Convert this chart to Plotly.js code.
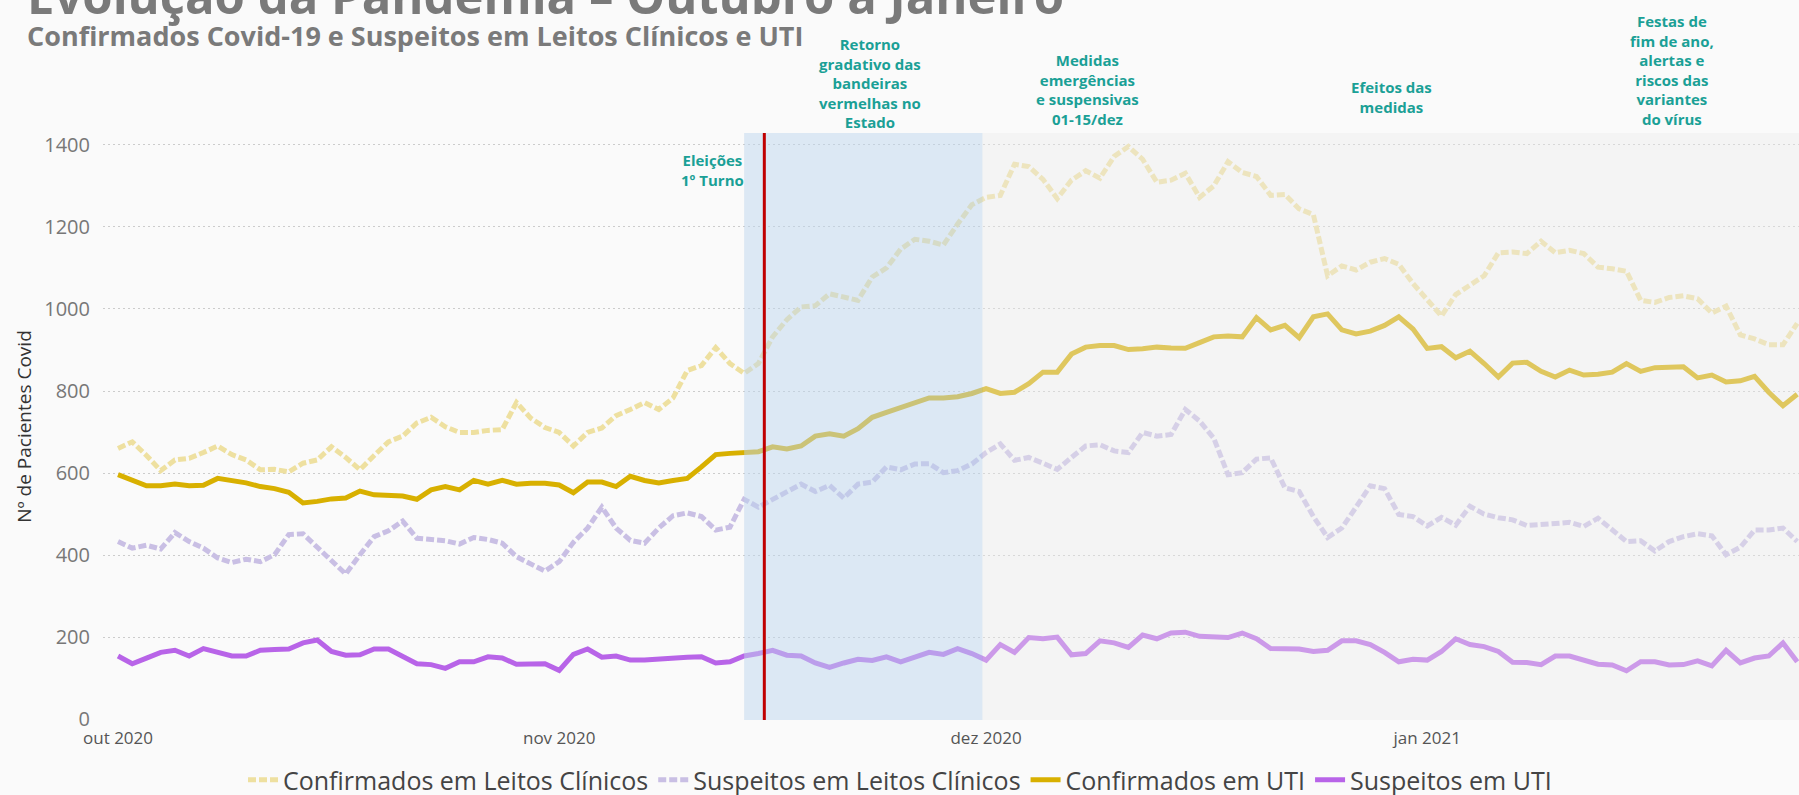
<!DOCTYPE html>
<html>
<head>
<meta charset="utf-8">
<script src="https://cdn.plot.ly/plotly-3.0.1.min.js"></script>
<style>
html,body{margin:0;padding:0;background:#fafafa;overflow:hidden;}
#chart{width:1799px;height:795px;}
</style>
</head>
<body>
<div id="chart"></div>
<script>
// ---- data (daily, starting 2020-10-01) ----
const startDate = '2020-10-01';
const seriesNames = ['Confirmados em Leitos Clínicos', 'Suspeitos em Leitos Clínicos', 'Confirmados em UTI', 'Suspeitos em UTI'];

const confirmadosLeitos = [
  660, 676, 643, 606, 632, 636, 650, 666, 645, 632, 608, 609, 603, 624, 632, 664, 638, 608, 643, 676,
  690, 722, 736, 713, 699, 699, 704, 706, 772, 734, 711, 699, 666, 699, 710, 740,
  755, 772, 755, 783, 850, 862, 906, 867, 843, 867, 932, 974, 1005, 1008, 1037, 1028, 1021, 1078, 1100, 1146,
  1170, 1165, 1156, 1207, 1254, 1272, 1277, 1353, 1347, 1316, 1269, 1314, 1337, 1319, 1372,
  1396, 1365, 1309, 1314, 1331, 1272, 1300, 1359, 1333, 1323, 1277, 1279, 1244, 1230, 1081, 1105, 1095, 1114, 1123, 1109,
  1062, 1021, 983, 1035, 1058, 1081, 1137, 1139, 1135, 1165, 1137, 1143, 1135, 1102, 1098,
  1092, 1021, 1016, 1028, 1032, 1025, 990, 1007, 937, 927, 913, 913, 965
];
const suspeitosLeitos = [
  433, 417, 424, 415, 455, 433, 417, 393, 382, 390, 384, 401, 450, 452, 419, 387, 354, 401, 445, 459,
  483, 441, 438, 435, 427, 443, 438, 429, 396, 379, 361, 384, 431, 466, 517, 466,
  436, 429, 466, 496, 503, 494, 461, 468, 536, 517, 536, 555, 573, 555, 570, 539, 573, 578, 615, 608,
  622, 623, 601, 606, 622, 650, 671, 631, 638, 624, 609, 638, 666, 669, 654,
  650, 699, 690, 694, 755, 727, 685, 596, 601, 634, 637, 564, 555, 494, 443, 466, 517, 569, 562, 499,
  494, 471, 492, 473, 519, 500, 491, 486, 472, 473, 477, 480, 470, 490, 463,
  433, 435, 410, 433, 445, 452, 447, 401, 419, 461, 461, 466, 433
];
const confirmadosUTI = [
  596, 582, 569, 569, 573, 569, 570, 587, 582, 576, 567, 562, 553, 527, 531, 537, 539, 556, 547, 545,
  544, 536, 559, 567, 559, 582, 573, 582, 573, 575, 575, 571, 552, 578, 578, 567,
  592, 582, 576, 582, 587, 615, 645, 648, 650, 652, 664, 659, 666, 690, 696, 690, 708, 736, 748, 760,
  772, 783, 783, 786, 794, 806, 794, 797, 818, 846, 846, 890, 907, 911, 911,
  901, 903, 907, 905, 904, 918, 932, 934, 932, 979, 949, 960, 930, 981, 988, 949, 939, 946, 960, 981,
  951, 904, 908, 881, 897, 867, 834, 868, 870, 848, 834, 851, 839, 841, 846,
  867, 848, 857, 859, 859, 832, 839, 822, 825, 836, 797, 764, 792
];
const suspeitosUTI = [
  154, 135, 149, 163, 168, 154, 172, 163, 154, 154, 168, 170, 171, 186, 193, 165, 156, 157, 171, 171,
  154, 135, 133, 124, 140, 140, 152, 149, 134, 133, 135, 119, 158, 171, 151, 154,
  144, 144, 147, 149, 151, 152, 137, 140, 154, 160, 168, 156, 154, 137, 126, 137, 146, 143, 152, 140,
  151, 163, 158, 172, 160, 144, 182, 163, 199, 196, 200, 157, 160, 191, 186,
  175, 205, 196, 210, 212, 202, 200, 199, 210, 196, 172, 172, 171, 165, 168, 191, 191, 182, 163, 140,
  146, 144, 165, 196, 182, 177, 165, 139, 138, 133, 154, 154, 145, 134, 132,
  118, 140, 140, 132, 133, 142, 130, 168, 137, 149, 154, 186, 140
];

const tickDates = ['2020-10-01', '2020-11-01', '2020-12-01', '2021-01-01'];
const tickLabels = ['out 2020', 'nov 2020', 'dez 2020', 'jan 2021'];
const yTicks = [0, 200, 400, 600, 800, 1000, 1200, 1400];

// ---- build dates (one per day) ----
const dates = [];
{
  const d0 = new Date(startDate + 'T00:00:00Z');
  for (let i = 0; i < confirmadosLeitos.length; i++) {
    const d = new Date(d0.getTime() + i * 86400000);
    dates.push(d.toISOString().slice(0, 10));
  }
}

const colors = ['#eee0a0', '#c9bfe4', '#d8b000', '#b864e8'];
const values = [confirmadosLeitos, suspeitosLeitos, confirmadosUTI, suspeitosUTI];
const dashes = ['8px,3px', '8px,3px', 'solid', 'solid'];

const traces = values.map((v, i) => ({
  x: dates, y: v, name: seriesNames[i], type: 'scatter', mode: 'lines',
  line: {color: colors[i], width: 5, dash: dashes[i]},
  hoverinfo: 'x+y+name'
}));

// plot area in px
const PL = 103, PT = 133, PW = 1696, PH = 587;
const px = v => (v - PL) / PW;
const py = v => (PT + PH - v) / PH;

const teal = '#1aa096';
const annFont = {family: 'Open Sans, sans-serif', size: 15, color: teal};

const layout = {
  width: 1799, height: 795,
  margin: {l: PL, r: 1799 - PL - PW, t: PT, b: 795 - PT - PH, autoexpand: false},
  paper_bgcolor: '#fafafa', plot_bgcolor: '#fafafa',
  font: {family: 'Open Sans, sans-serif'},
  showlegend: true,
  legend: {
    orientation: 'h', x: px(900), xanchor: 'center', y: py(780), yanchor: 'middle',
    font: {size: 25, color: '#444'}, bgcolor: 'rgba(0,0,0,0)', traceorder: 'normal'
  },
  xaxis: {
    type: 'date', range: ['2020-09-29 22:40', '2021-01-27 03:00'],
    tickmode: 'array', tickvals: tickDates, ticktext: tickLabels,
    showgrid: false, zeroline: false, showline: false, ticks: '',
    tickfont: {size: 17, color: '#555'}, ticklabelstandoff: 6, fixedrange: true
  },
  yaxis: {
    range: [-2, 1429], tickmode: 'array', tickvals: yTicks,
    showgrid: true, gridcolor: '#cccccc', griddash: '1.5px,3.5px', gridwidth: 1,
    zeroline: false, showline: false, ticks: '',
    tickfont: {size: 20, color: '#777'}, ticklabelstandoff: 12,
    title: {text: 'Nº de Pacientes Covid', font: {size: 19, color: '#333'}, standoff: 7},
    fixedrange: true
  },
  shapes: [
    {type: 'rect', xref: 'x', yref: 'paper', x0: '2020-11-14 00:00', x1: '2020-11-30 18:00', y0: 0, y1: 1,
     fillcolor: 'rgba(190,214,238,0.5)', line: {width: 0}, layer: 'above'},
    {type: 'rect', xref: 'x', yref: 'paper', x0: '2020-11-30 18:00', x1: '2021-01-28', y0: 0, y1: 1,
     fillcolor: 'rgba(235,235,235,0.4)', line: {width: 0}, layer: 'above'},
    {type: 'line', xref: 'x', yref: 'paper', x0: '2020-11-15 10:00', x1: '2020-11-15 10:00', y0: 0, y1: 1,
     line: {color: '#c00000', width: 3}, layer: 'above'}
  ],
  annotations: [
    {text: '<b>Evolução da Pandemia – Outubro a Janeiro</b>', xref: 'paper', yref: 'paper',
     x: px(25), y: py(-5), xanchor: 'left', yanchor: 'middle', showarrow: false,
     font: {size: 49, color: '#7a7a7a'}},
    {text: '<b>Confirmados Covid-19 e Suspeitos em Leitos Clínicos e UTI</b>', xref: 'paper', yref: 'paper',
     x: px(25), y: py(35), xanchor: 'left', yanchor: 'middle', showarrow: false,
     font: {size: 27, color: '#7a7a7a'}},
    {text: '<b>Eleições<br>1º Turno</b>', xref: 'paper', yref: 'paper', x: px(712), y: py(170),
     xanchor: 'center', yanchor: 'middle', showarrow: false, align: 'center', font: annFont},
    {text: '<b>Retorno<br>gradativo das<br>bandeiras<br>vermelhas no<br>Estado</b>', xref: 'paper', yref: 'paper',
     x: px(870), y: py(82.7), xanchor: 'center', yanchor: 'middle', showarrow: false, align: 'center', font: annFont},
    {text: '<b>Medidas<br>emergências<br>e suspensivas<br>01-15/dez</b>', xref: 'paper', yref: 'paper',
     x: px(1087), y: py(89.5), xanchor: 'center', yanchor: 'middle', showarrow: false, align: 'center', font: annFont},
    {text: '<b>Efeitos das<br>medidas</b>', xref: 'paper', yref: 'paper',
     x: px(1391), y: py(97.5), xanchor: 'center', yanchor: 'middle', showarrow: false, align: 'center', font: annFont},
    {text: '<b>Festas de<br>fim de ano,<br>alertas e<br>riscos das<br>variantes<br>do vírus</b>', xref: 'paper', yref: 'paper',
     x: px(1672), y: py(70), xanchor: 'center', yanchor: 'middle', showarrow: false, align: 'center', font: annFont}
  ]
};

Plotly.newPlot('chart', traces, layout, {displayModeBar: false, staticPlot: true});
</script>
</body>
</html>
